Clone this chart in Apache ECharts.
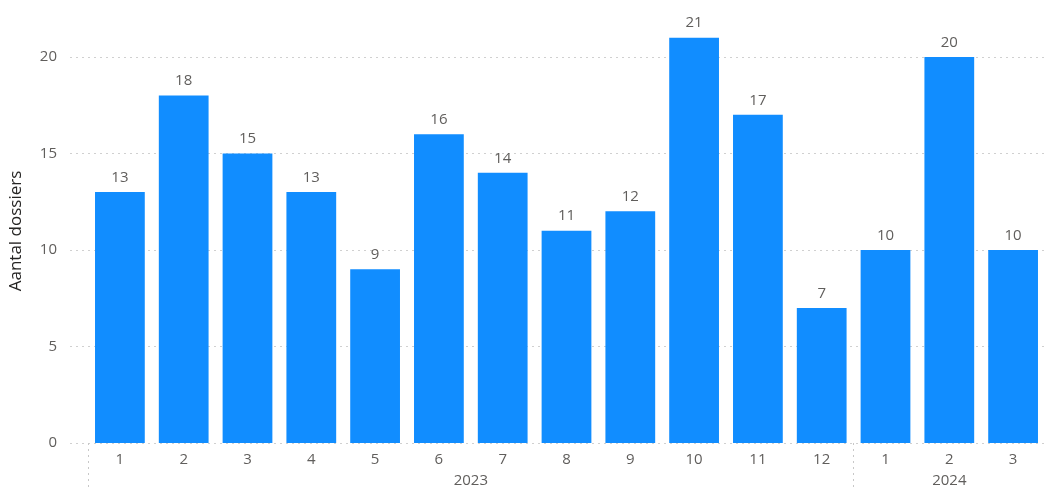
<!DOCTYPE html>
<html>
<head>
<meta charset="utf-8">
<script src="https://cdn.jsdelivr.net/npm/echarts@6/dist/echarts.min.js"></script>
<style>html,body{margin:0;padding:0;background:#fff}#c{width:1045px;height:493px}</style>
</head>
<body>
<div id="c"></div>
<script>
const months = ['1','2','3','4','5','6','7','8','9','10','11','12','1','2','3'];
const values = [13,18,15,13,9,16,14,11,12,21,17,7,10,20,10];
const years = ['2023','2024'];
const yearSpans = [12,3];
const yTicks = [0,5,10,15,20];
const yMax = 22.95;

const font = '"Open Sans", "Noto Sans", sans-serif';
const labelColor = '#605E5C';

const yearBounds = [0];
const yearCenters = [];
yearSpans.forEach((s,i)=>{ const start = yearBounds[i]; yearCenters.push(start + s/2); yearBounds.push(start + s); });

const chart = echarts.init(document.getElementById('c'));
chart.setOption({
  animation:false,
  grid:[
    {left:70, right:0, top:0, bottom:50},
    {left:88, right:0, top:0, bottom:50},
    {left:70, right:0, top:19, bottom:50}
  ],
  xAxis:[
    {gridIndex:0, type:'value', show:false, min:0, max:1},
    {gridIndex:1, type:'category', data:months, position:'bottom',
      axisLine:{show:false}, axisTick:{show:false},
      axisLabel:{color:labelColor, fontSize:15, fontFamily:font, margin:9}},
    {gridIndex:1, type:'value', min:0, max:months.length, position:'bottom',
      axisLine:{show:false}, splitLine:{show:false},
      axisTick:{show:true, customValues:yearBounds.slice(0,-1), length:47, lineStyle:{color:'#C8C8C8', type:[2,4], width:1}},
      axisLabel:{customValues:yearCenters, color:labelColor, fontSize:15, fontFamily:font, margin:30,
        formatter:(v)=>{ const i = yearCenters.indexOf(v); return i>=0 ? years[i] : ''; }}},
    {gridIndex:2, type:'value', show:false, min:0, max:1}
  ],
  yAxis:[
    {gridIndex:0, type:'value', min:0, max:yMax, interval:5,
      axisLine:{show:false}, axisTick:{show:false},
      axisLabel:{color:labelColor, fontSize:15, fontFamily:font, margin:13, showMaxLabel:false,
        formatter:(v)=> yTicks.indexOf(v)>=0 ? String(v) : ''},
      splitLine:{show:true, showMaxLine:false, lineStyle:{color:'#D0D0D0', type:[2,4], width:1}}},
    {gridIndex:1, type:'value', min:0, max:yMax, interval:5, show:false, splitLine:{show:false}},
    {gridIndex:2, type:'value', min:0, max:1, axisLine:{show:false}, axisTick:{show:false}, axisLabel:{show:false}, splitLine:{show:false},
      name:'Aantal dossiers', nameLocation:'middle', nameGap:45,
      nameTextStyle:{color:'#252423', fontSize:17, fontFamily:font}}
  ],
  series:[{
    type:'bar', xAxisIndex:1, yAxisIndex:1, data:values, barWidth:'78%',
    itemStyle:{color:'#118DFF'},
    label:{show:true, position:'top', distance:7, color:labelColor, fontSize:15, fontFamily:font}
  }]
});
</script>
</body>
</html>
